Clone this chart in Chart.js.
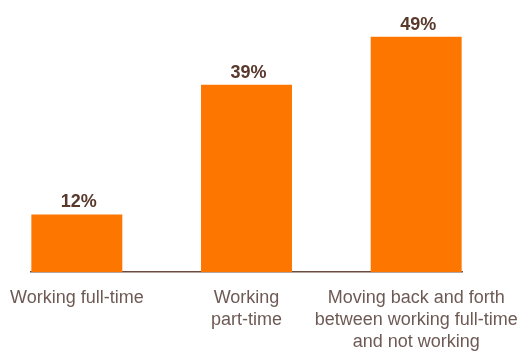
<!DOCTYPE html>
<html>
<head>
<meta charset="utf-8">
<script src="https://cdn.jsdelivr.net/npm/chart.js@4.4.1/dist/chart.umd.min.js"></script>
<style>
  html, body { margin: 0; padding: 0; background: #fff; }
  #wrap { width: 524px; height: 355px; position: relative; }
</style>
</head>
<body>
<div id="wrap"><canvas id="chart"></canvas></div>
<script>
// Work arrangement categories and share of respondents (%)
const categories = [
  ['Working full-time'],
  ['Working', 'part-time'],
  ['Moving back and forth', 'between working full-time', 'and not working']
];
const shares = [12, 39, 49];

const BAR_COLOR = '#fd7700';
const VALUE_COLOR = '#5a392d';
const LABEL_COLOR = '#6e5a54';
const AXIS_COLOR = '#6b4b3d';

// Write the percentage above each bar
const valueLabels = {
  id: 'valueLabels',
  afterDatasetsDraw(chart) {
    const ctx = chart.ctx;
    const meta = chart.getDatasetMeta(0);
    ctx.save();
    ctx.font = 'bold 18px "Liberation Sans", Arial, sans-serif';
    ctx.fillStyle = VALUE_COLOR;
    ctx.textAlign = 'center';
    ctx.textBaseline = 'alphabetic';
    meta.data.forEach((bar, i) => {
      ctx.fillText(shares[i] + '%', bar.x + 2, bar.y - 7);
    });
    ctx.restore();
  }
};

new Chart(document.getElementById('chart'), {
  type: 'bar',
  data: {
    datasets: [{
      data: shares.map((v, i) => ({ x: i, y: v })),
      backgroundColor: BAR_COLOR,
      borderWidth: 0,
      categoryPercentage: 1,
      barPercentage: 0.536
    }]
  },
  options: {
    responsive: true,
    maintainAspectRatio: false,
    animation: false,
    layout: { padding: { top: 32, left: 31, right: 62, bottom: 0 } },
    plugins: {
      legend: { display: false },
      tooltip: { enabled: false }
    },
    scales: {
      x: {
        type: 'linear',
        offset: false,
        min: -0.27,
        max: 2.27,
        afterBuildTicks(scale) {
          scale.ticks = categories.map((_, i) => ({ value: i }));
        },
        afterFit(scale) {
          // labels may spill past the plot edges; keep the plot width fixed
          scale.height = 83;
          scale.paddingLeft = 0;
          scale.paddingRight = 0;
        },
        grid: { display: false },
        border: { display: true, color: AXIS_COLOR, width: 1.5 },
        ticks: {
          autoSkip: false,
          maxRotation: 0,
          padding: 7,
          color: LABEL_COLOR,
          font: { family: '"Liberation Sans", Arial, sans-serif', size: 18, lineHeight: 1.22 },
          callback: (value) => categories[value]
        }
      },
      y: {
        display: false,
        min: 0,
        max: 50
      }
    }
  },
  plugins: [valueLabels]
});
</script>
</body>
</html>
